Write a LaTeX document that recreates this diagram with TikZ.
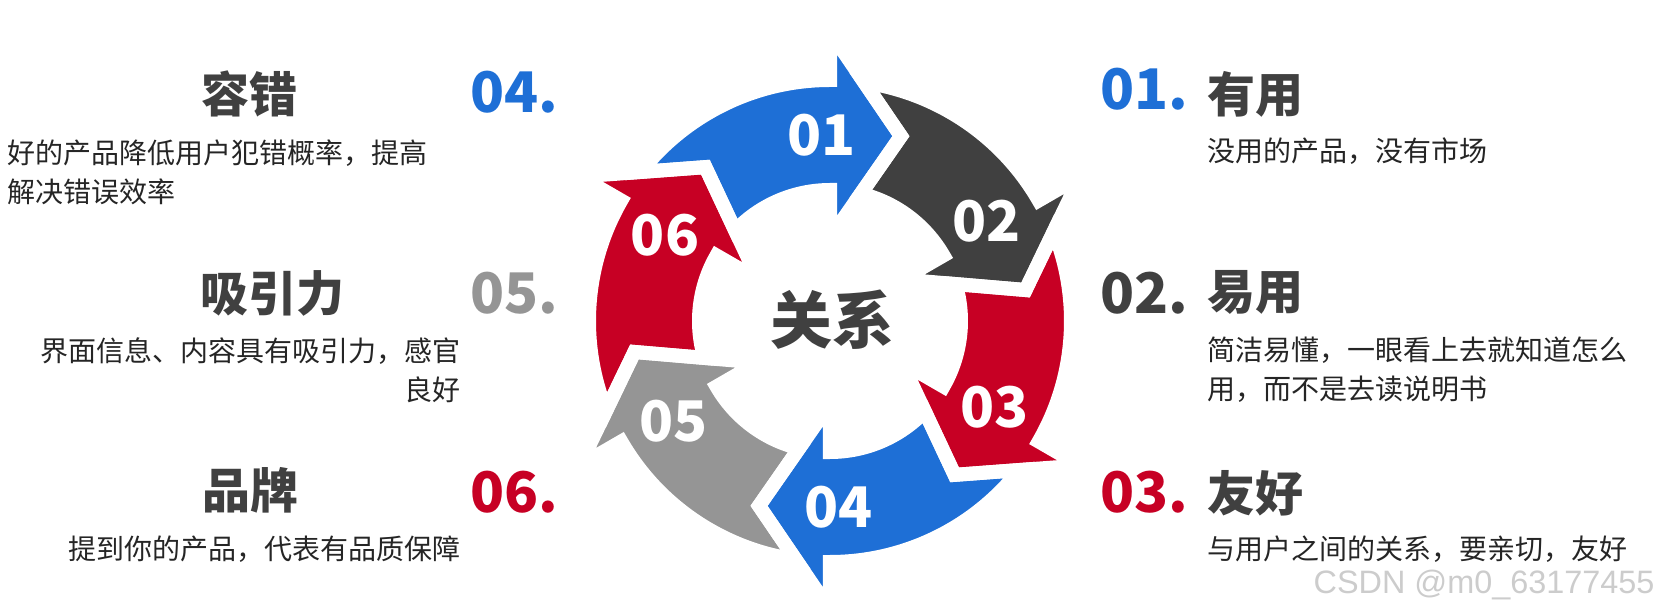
\documentclass[tikz,border=0pt]{standalone}
\usepackage{fontspec}
\setmainfont{Noto Sans CJK SC}
\newfontfamily\wmfont{Liberation Sans}
\usetikzlibrary{positioning}
\definecolor{relblue}{HTML}{1E6FD6}
\definecolor{reldark}{HTML}{404040}
\definecolor{relred}{HTML}{C70024}
\definecolor{relgrey}{HTML}{959595}
\definecolor{reltext}{HTML}{252525}
\tikzset{
  numtxt/.style={inner sep=0pt, anchor=west, font=\fontsize{28}{30}\selectfont\bfseries},
  headtxt/.style={inner sep=0pt, anchor=west, text=reldark, font=\fontsize{24}{26}\selectfont\bfseries},
  bodytxt/.style={inner sep=0pt, text=reltext, font=\fontsize{14}{19.6}\selectfont},
  ringnum/.style={text=white, font=\fontsize{28}{30}\selectfont\bfseries},
  gapline/.style={draw=white, line width=7pt, line join=miter},
}
% one curved arrow of the ring, #1 = angle of the arrow head base
\newcommand{\ringarrow}[1]{(#1+51.8:241) arc[start angle=#1+51.8, end angle=#1, radius=241]
  -- (#1:289) -- (#1-21:198) -- (#1:83) -- (#1:131)
  arc[start angle=#1, end angle=#1+46.37, radius=131] -- (#1+39:198) -- cycle}

\begin{document}
\begin{tikzpicture}[x=0.5pt, y=0.5pt]
  \useasboundingbox (-830,-294) rectangle (830,321);
  % ring
  \foreach \b/\c in {90/relblue, 30/reldark, -30/relred, -90/relblue, -150/relgrey, 150/relred}
    \fill[\c] \ringarrow{\b};
  \foreach \b in {90, 30, -30, -90, -150, 150}
    \draw[gapline] \ringarrow{\b};
  \foreach \b/\t in {90/01, 30/02, -30/03, -90/04, -150/05, 150/06}
    \node[ringnum] (r\t) at (\b+2.5:186) {\t};
  \node[text=reldark, font=\fontsize{31}{33}\selectfont\bfseries] (rel) at (3,1) {关系};

  % right column
  \node[numtxt, text=relblue] (n01) at (270,232) {01.};
  \node[headtxt] (h01) at (377,227) {有用};
  \node[bodytxt, anchor=west] (d01) at (377,170) {没用的产品，没有市场};
  \node[numtxt, text=reldark] (n02) at (270,28) {02.};
  \node[headtxt] (h02) at (377,29) {易用};
  \node[bodytxt, anchor=west, align=left] (d02) at (377,-49) {简洁易懂，一眼看上去就知道怎么\\用，而不是去读说明书};
  \node[numtxt, text=relred] (n03) at (270,-171) {03.};
  \node[headtxt] (h03) at (377,-172) {友好};
  \node[bodytxt, anchor=west] (d03) at (377,-228) {与用户之间的关系，要亲切，友好};

  % left column
  \node[headtxt] (h04) at (-629,227) {容错};
  \node[numtxt, text=relblue] (n04) at (-360,229) {04.};
  \node[bodytxt, anchor=west, align=left] (d04) at (-823,149) {好的产品降低用户犯错概率，提高\\解决错误效率};
  \node[headtxt] (h05) at (-630,28) {吸引力};
  \node[numtxt, text=relgrey] (n05) at (-360,28) {05.};
  \node[bodytxt, anchor=east, align=right] (d05) at (-369,-49) {界面信息、内容具有吸引力，感官\\良好};
  \node[headtxt] (h06) at (-628,-169) {品牌};
  \node[numtxt, text=relred] (n06) at (-360,-171) {06.};
  \node[bodytxt, anchor=east] (d06) at (-369,-228) {提到你的产品，代表有品质保障};

  \node[anchor=east, inner sep=0pt, text=black!20, font=\wmfont\fontsize{16.2}{17}\selectfont] (wm) at (825,-264) {CSDN @m0\_63177455};
\end{tikzpicture}
\end{document}
